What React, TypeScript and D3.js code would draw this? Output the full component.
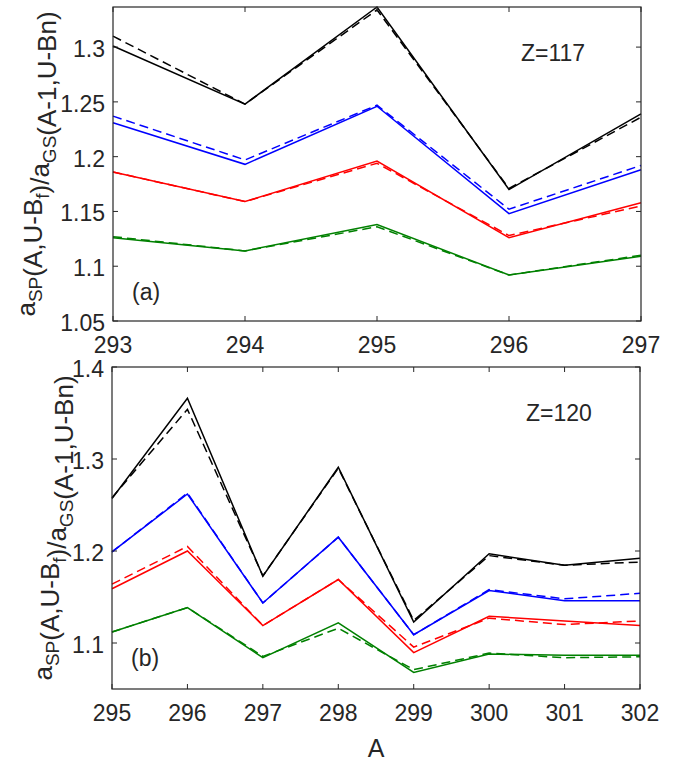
import React, { useEffect, useRef } from 'react'
import * as d3 from 'd3'

// panel (a), Z=117
const massA = [293, 294, 295, 296, 297]
const blackSolidA = [1.301, 1.248, 1.3366, 1.170, 1.239]
const blackDashA = [1.310, 1.248, 1.334, 1.171, 1.236]
const blueSolidA = [1.231, 1.193, 1.246, 1.148, 1.188]
const blueDashA = [1.237, 1.197, 1.247, 1.152, 1.192]
const redSolidA = [1.186, 1.159, 1.196, 1.126, 1.158]
const redDashA = [1.186, 1.159, 1.194, 1.128, 1.155]
const greenSolidA = [1.126, 1.114, 1.138, 1.092, 1.109]
const greenDashA = [1.127, 1.114, 1.136, 1.092, 1.110]
const yTicksA = [1.05, 1.1, 1.15, 1.2, 1.25, 1.3]

// panel (b), Z=120
const massB = [295, 296, 297, 298, 299, 300, 301, 302]
const blackSolidB = [1.257, 1.366, 1.1725, 1.291, 1.1228, 1.197, 1.1845, 1.192]
const blackDashB = [1.258, 1.354, 1.173, 1.290, 1.1245, 1.195, 1.1845, 1.188]
const blueSolidB = [1.199, 1.262, 1.1435, 1.215, 1.109, 1.157, 1.146, 1.146]
const blueDashB = [1.199, 1.263, 1.1435, 1.215, 1.109, 1.158, 1.148, 1.154]
const redSolidB = [1.159, 1.200, 1.119, 1.169, 1.0895, 1.129, 1.124, 1.119]
const redDashB = [1.164, 1.205, 1.119, 1.169, 1.0955, 1.127, 1.120, 1.124]
const greenSolidB = [1.112, 1.1385, 1.084, 1.122, 1.068, 1.088, 1.0866, 1.0866]
const greenDashB = [1.112, 1.1385, 1.0855, 1.116, 1.071, 1.089, 1.084, 1.085]
const yTicksB = [1.1, 1.2, 1.3, 1.4]

const colors = { black: '#000000', blue: '#0000ff', red: '#ff0000', green: '#008000' }
const axisColor = '#262626'
const font = '"Liberation Sans", Arial, Helvetica, sans-serif'

const panels = [
  {
    x: massA, xDomain: [293, 297], yDomain: [1.05, 1.3366], yTicks: yTicksA,
    box: { left: 113, right: 641, top: 7, bottom: 321 },
    series: [
      [greenSolidA, colors.green, false], [greenDashA, colors.green, true],
      [redSolidA, colors.red, false], [redDashA, colors.red, true],
      [blueSolidA, colors.blue, false], [blueDashA, colors.blue, true],
      [blackSolidA, colors.black, false], [blackDashA, colors.black, true],
    ],
    zText: 'Z=117', zPos: [521, 61], tag: '(a)', tagPos: [132, 300], yLabelX: 35, xLabel: false,
  },
  {
    x: massB, xDomain: [295, 302], yDomain: [1.05, 1.4], yTicks: yTicksB,
    box: { left: 112, right: 640, top: 367, bottom: 689 },
    series: [
      [greenSolidB, colors.green, false], [greenDashB, colors.green, true],
      [redSolidB, colors.red, false], [redDashB, colors.red, true],
      [blueSolidB, colors.blue, false], [blueDashB, colors.blue, true],
      [blackSolidB, colors.black, false], [blackDashB, colors.black, true],
    ],
    zText: 'Z=120', zPos: [526, 421], tag: '(b)', tagPos: [131, 666], yLabelX: 52, xLabel: true,
  },
]

const App = () => {
  const ref = useRef<SVGSVGElement>(null)

  useEffect(() => {
    document.body.style.margin = '0'
    const svg = d3.select(ref.current)
    svg.selectAll('*').remove()

    panels.forEach(p => {
      const { left, right, top, bottom } = p.box
      const x = d3.scaleLinear().domain(p.xDomain).range([left, right])
      const y = d3.scaleLinear().domain(p.yDomain).range([bottom, top])
      const g = svg.append('g')
      const tickLen = 5

      // data lines
      const line = d3.line<number>().x((d, i) => x(p.x[i])).y(d => y(d))
      p.series.forEach(([vals, col, dashed]: any) => {
        g.append('path')
          .attr('d', line(vals))
          .attr('fill', 'none')
          .attr('stroke', col)
          .attr('stroke-width', 1.5)
          .attr('stroke-dasharray', dashed ? '9,5' : null)
      })

      // box
      g.append('rect')
        .attr('x', left).attr('y', top)
        .attr('width', right - left).attr('height', bottom - top)
        .attr('fill', 'none').attr('stroke', axisColor).attr('stroke-width', 1.2)

      // x ticks (bottom and top, inward)
      const xTicks = d3.range(p.xDomain[0], p.xDomain[1] + 1)
      xTicks.forEach(t => {
        g.append('line').attr('x1', x(t)).attr('x2', x(t)).attr('y1', bottom).attr('y2', bottom - tickLen)
          .attr('stroke', axisColor)
        g.append('line').attr('x1', x(t)).attr('x2', x(t)).attr('y1', top).attr('y2', top + tickLen)
          .attr('stroke', axisColor)
        g.append('text').attr('x', x(t)).attr('y', bottom + 32)
          .attr('text-anchor', 'middle').attr('font-family', font).attr('font-size', 23)
          .attr('fill', axisColor).text(t)
      })

      // y ticks (left and right, inward)
      p.yTicks.forEach(t => {
        g.append('line').attr('x1', left).attr('x2', left + tickLen).attr('y1', y(t)).attr('y2', y(t))
          .attr('stroke', axisColor)
        g.append('line').attr('x1', right).attr('x2', right - tickLen).attr('y1', y(t)).attr('y2', y(t))
          .attr('stroke', axisColor)
        g.append('text').attr('x', left - 8).attr('y', y(t) + 10)
          .attr('text-anchor', 'end').attr('font-family', font).attr('font-size', 23)
          .attr('fill', axisColor).text(d3.format('~g')(t))
      })

      // annotations
      g.append('text').attr('x', p.zPos[0]).attr('y', p.zPos[1])
        .attr('font-family', font).attr('font-size', 23).attr('fill', axisColor).text(p.zText)
      g.append('text').attr('x', p.tagPos[0]).attr('y', p.tagPos[1])
        .attr('font-family', font).attr('font-size', 23).attr('fill', axisColor).text(p.tag)

      // y label with subscripts
      const yl = g.append('text')
        .attr('transform', `translate(${p.yLabelX},${(top + bottom) / 2}) rotate(-90)`)
        .attr('text-anchor', 'middle').attr('font-family', font).attr('font-size', 26)
        .attr('fill', axisColor)
      const parts: [string, boolean][] = [
        ['a', false], ['SP', true], ['(A,U-B', false], ['f', true],
        [')/a', false], ['GS', true], ['(A-1,U-Bn)', false],
      ]
      parts.forEach(([s, sub]) => {
        yl.append('tspan')
          .attr('dy', sub ? 7 : null)
          .attr('font-size', sub ? 19 : null)
          .text(s)
        if (sub) yl.append('tspan').attr('dy', -7).text('')
      })

      if (p.xLabel) {
        g.append('text').attr('x', (left + right) / 2).attr('y', 757)
          .attr('text-anchor', 'middle').attr('font-family', font).attr('font-size', 25)
          .attr('fill', axisColor).text('A')
      }
    })
  }, [])

  return <svg ref={ref} width={686} height={763} style={{ display: 'block', background: '#fff' }} />
}

export default App
